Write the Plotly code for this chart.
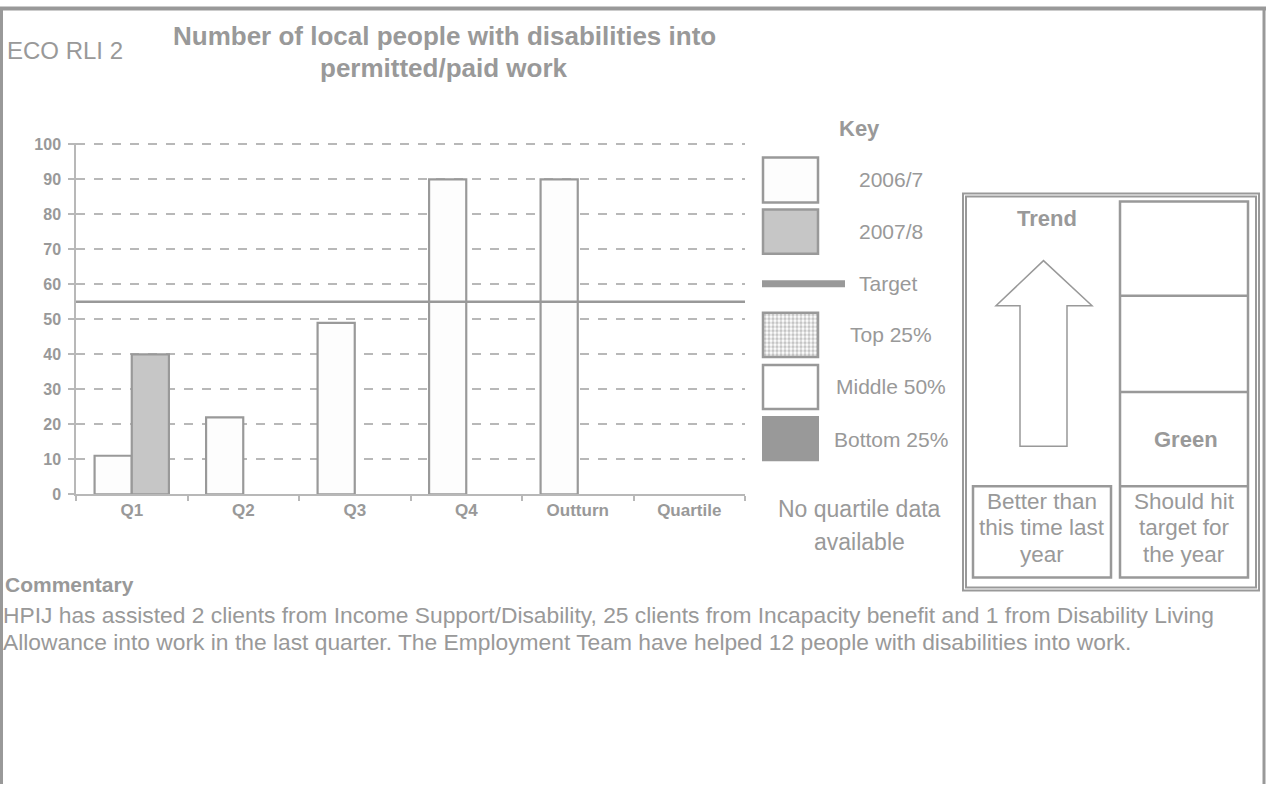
import plotly.graph_objects as go

# ---------------- data ----------------
categories = ["Q1", "Q2", "Q3", "Q4", "Outturn", "Quartile"]
series_2006_7 = [11, 22, 49, 90, 90, None]
series_2007_8 = [40, None, None, None, None, None]
target_value = 55
y_ticks = [0, 10, 20, 30, 40, 50, 60, 70, 80, 90, 100]

title_lines = ["Number of local people with disabilities into", "permitted/paid work"]
code_label = "ECO RLI 2"
key_labels = ["2006/7", "2007/8", "Target", "Top 25%", "Middle 50%", "Bottom 25%"]
quartile_note = ["No quartile data", "available"]
trend_note = ["Better than", "this time last", "year"]
target_note = ["Should hit", "target for", "the year"]
commentary_lines = [
    "HPIJ has assisted 2 clients from Income Support/Disability, 25 clients from Incapacity benefit and 1 from Disability Living",
    "Allowance into work in the last quarter. The Employment Team have helped 12 people with disabilities into work.",
]

W, H = 1266, 793
GRAY = "#999999"
LGRAY = "#b8b8b8"
FONT = "Liberation Sans, Arial, sans-serif"

# observed page placement: the figure is drawn ~9px down and ~775px tall
OFF_Y, EFF_H = 9.0, 775.0


def px(x):
    return x / W


def py(y):
    return min(1.0, 1 - (y - OFF_Y) / EFF_H)


fig = go.Figure()

fig.add_trace(go.Bar(
    x=categories, y=series_2006_7, name="2006/7",
    marker=dict(color="#fdfdfd", line=dict(color=GRAY, width=2.2)),
))
fig.add_trace(go.Bar(
    x=categories, y=series_2007_8, name="2007/8",
    marker=dict(color="#c6c6c6", line=dict(color=GRAY, width=2.2)),
))

# patterned legend swatch (Top 25%) on its own small axis
fig.add_trace(go.Bar(
    x=[0.5], y=[1], width=[1], xaxis="x2", yaxis="y2", showlegend=False,
    marker=dict(color="#ffffff", line=dict(width=0),
                pattern=dict(shape=".", size=4, solidity=0.55, fgcolor="#8c8c8c", bgcolor="#ffffff")),
    hoverinfo="skip",
))

shapes = []
annotations = []

# target line across plot
shapes.append(dict(type="line", xref="x domain", yref="y", x0=0, x1=1,
                   y0=target_value, y1=target_value, line=dict(color=GRAY, width=2.5)))

# outer frame
shapes.append(dict(type="line", xref="paper", yref="paper", x0=0, x1=1, y0=0.998, y1=0.998,
                   line=dict(color=GRAY, width=4)))
shapes.append(dict(type="line", xref="paper", yref="paper", x0=px(1.5), x1=px(1.5), y0=1, y1=0,
                   line=dict(color=GRAY, width=3)))
shapes.append(dict(type="line", xref="paper", yref="paper", x0=px(1264), x1=px(1264), y0=1, y1=0,
                   line=dict(color=GRAY, width=3)))


def rect(x0, y0, x1, y1, fill="rgba(0,0,0,0)", lw=2, lc=GRAY):
    shapes.append(dict(type="rect", xref="paper", yref="paper",
                       x0=px(x0), x1=px(x1), y0=py(y1), y1=py(y0),
                       fillcolor=fill, line=dict(color=lc, width=lw)))


def text(x, y, s, size=16, bold=False, anchor="center"):
    annotations.append(dict(xref="paper", yref="paper", x=px(x), y=py(y), text=("<b>%s</b>" % s) if bold else s,
                            showarrow=False, xanchor=anchor, yanchor="middle",
                            font=dict(family=FONT, size=size, color=GRAY)))


# key swatches
rect(763, 159, 818, 204, fill="#fdfdfd", lw=2.5)
rect(763, 211, 818, 255, fill="#c6c6c6", lw=2.5)
shapes.append(dict(type="line", xref="paper", yref="paper", x0=px(762), x1=px(845), y0=py(285), y1=py(285),
                   line=dict(color=GRAY, width=7)))
rect(763, 314, 818, 358, lw=2.5)
rect(763, 366, 818, 410, fill="#ffffff", lw=2.5)
rect(762, 417, 819, 462, fill=GRAY, lw=0)

# right panel (double frame)
rect(963, 195, 1259, 591, lw=2)
rect(966, 198, 1256, 588, lw=2)
rect(1120, 203, 1248, 578, lw=2.5)
for yy in [297, 393, 487]:
    shapes.append(dict(type="line", xref="paper", yref="paper", x0=px(1120), x1=px(1248), y0=py(yy), y1=py(yy),
                       line=dict(color=GRAY, width=2.5)))
rect(973, 487, 1111, 578, lw=2.5)

# arrow
arrow_pts = [(1020, 447), (1020, 307), (996, 307), (1043.5, 262), (1092, 307), (1067, 307), (1067, 447)]
path = "M " + " L ".join("%.5f,%.5f" % (px(a), py(b)) for a, b in arrow_pts) + " Z"
shapes.append(dict(type="path", xref="paper", yref="paper", path=path, fillcolor="#ffffff",
                   line=dict(color=GRAY, width=1.5)))

# texts
text(5, 52, code_label, size=24, anchor="left")
text(444, 38, title_lines[0], size=26, bold=True)
text(444, 70, title_lines[1], size=26, bold=True)
text(860, 130, "Key", size=22, bold=True)
text(891, 181, key_labels[0], size=21)
text(891, 233, key_labels[1], size=21)
text(857, 285, key_labels[2], size=21, anchor="left")
text(891, 336, key_labels[3], size=21)
text(891, 388, key_labels[4], size=21)
text(891, 440, key_labels[5], size=21)
text(859, 510, quartile_note[0], size=23)
text(859, 543, quartile_note[1], size=23)
text(1047, 220, "Trend", size=22, bold=True)
text(1186, 440, "Green", size=22, bold=True)
for i, s in enumerate(trend_note):
    text(1042, 502 + i * 26.5, s, size=22.5)
for i, s in enumerate(target_note):
    text(1184, 502 + i * 26.5, s, size=22.5)
text(3, 585, "Commentary", size=21, bold=True, anchor="left")
text(1, 615, commentary_lines[0], size=22.8, anchor="left")
text(1, 642, commentary_lines[1], size=22.8, anchor="left")

fig.update_layout(
    width=W, height=H, margin=dict(l=0, r=0, t=0, b=0),
    paper_bgcolor="#ffffff", plot_bgcolor="#ffffff",
    barmode="group", bargap=1/3, bargroupgap=0,
    showlegend=False,
    shapes=shapes, annotations=annotations,
    font=dict(family=FONT, color=GRAY),
    xaxis=dict(domain=[px(76), px(745)], anchor="y",
               showline=True, linecolor=LGRAY, linewidth=1.5,
               ticks="outside", tickson="boundaries", ticklen=5, tickcolor=LGRAY, tickwidth=1.5,
               tickfont=dict(family=FONT, size=17, color=GRAY, weight="bold"),
               showgrid=False, fixedrange=True),
    yaxis=dict(domain=[py(495), py(145)], anchor="x", range=[0, 100.3],
               tickvals=y_ticks, ticktext=[str(v) for v in y_ticks],
               showline=True, linecolor=LGRAY, linewidth=1.5,
               ticks="outside", ticklen=6, tickcolor=LGRAY, tickwidth=1.5,
               ticklabelstandoff=4,
               showgrid=True, gridcolor=LGRAY, griddash="dash", gridwidth=1.5,
               zeroline=False,
               tickfont=dict(family=FONT, size=16, color=GRAY, weight="bold"),
               fixedrange=True),
    xaxis2=dict(domain=[px(763), px(818)], anchor="y2", range=[0, 1], visible=False, fixedrange=True),
    yaxis2=dict(domain=[py(358), py(314)], anchor="x2", range=[0, 1], visible=False, fixedrange=True),
)

fig.write_html("out.html")
